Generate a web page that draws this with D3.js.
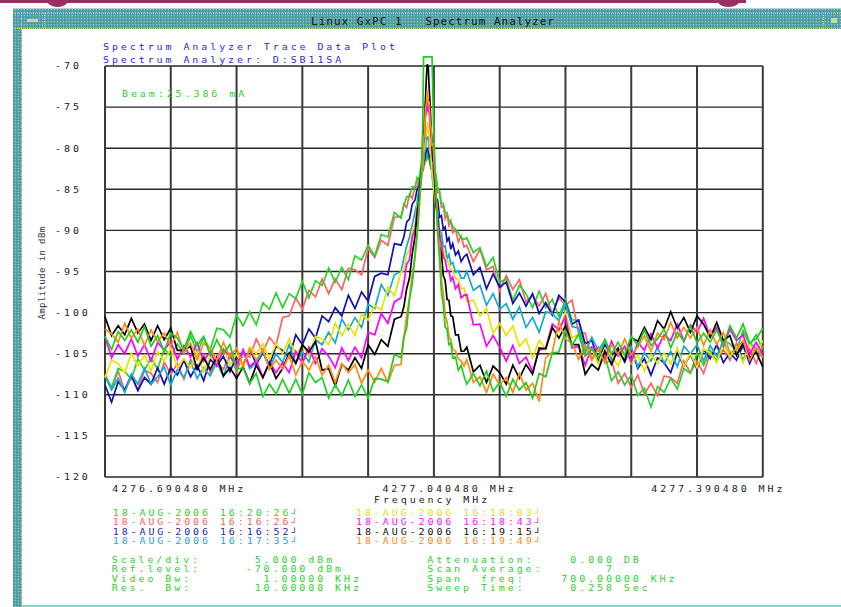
<!DOCTYPE html>
<html>
<head>
<meta charset="utf-8">
<script src="https://cdn.jsdelivr.net/npm/d3@7"></script>
<style>
  html, body { margin: 0; padding: 0; background: #fff; }
  svg { display: block; }
  .mono { font-family: "DejaVu Sans Mono", "Liberation Mono", monospace; font-size: 8px; letter-spacing: 2.336px; white-space: pre; }
</style>
</head>
<body>
<script>
// ---- data ---------------------------------------------------------------
// frequency offsets from the 4277.040480 MHz centre, in kHz (span 700 kHz)
const freqOffsetKHz = [
  -350,-343,-336,-329,-322,-315,-308,-301,-294,-287,-280,-273,-266,-259,-252,-245,-238,-231,-224,-217,-210,-203,-196,-189,-182,-175,-168,-161,-154,-147,-140,-133,-126,-119,-112,-105,-98,-91,-84,-77,-70,-63,-56,-49,-42,-35,
  -32,-29,-26,-23,-20,-18,-16,-14,-12,-11,-10,-9,-8,-7,-6,-5,-4,-3,-2,-1,0,2,4,6,8,10,12,14,16,18,20,23,26,29,32,
  35,42,49,56,63,70,77,84,91,98,105,112,119,126,133,140,147,154,161,168,175,182,189,196,203,210,217,224,231,238,245,252,259,266,273,280,287,294,301,308,315,322,329,336,343,350
];

// amplitude (dBm) of each stored sweep at the offsets above
const sweep161626 = [
  -107.6,-109.3,-107.1,-109.6,-107.8,-109.4,-107.0,-107.4,-108.5,-106.0,-107.5,-106.2,-108.1,-105.7,-106.8,-105.1,-107.3,-106.0,-106.9,-105.0,-107.2,-105.0,-105.4,-103.2,-104.8,-103.0,-104.0,-100.6,-100.4,-98.2,-99.6,-97.3,-98.1,-95.9,-97.7,-95.9,-97.2,-94.6,-94.8,-95.4,-92.2,-93.3,-91.2,-91.8,-88.4,-88.3,
  -86.8,-87.2,-85.6,-86.1,-84.7,-84.8,-83.6,-83.7,-82.5,-82.5,-81.7,-81.6,-81.1,-81.0,-81.3,-81.4,-82.1,-82.1,-82.9,-82.5,-83.3,-83.6,-85.4,-85.4,-87.2,-87.0,-88.6,-88.0,-89.4,-88.8,-90.3,-89.9,-91.4,-90.7,-92.0,
  -91.8,-93.8,-92.3,-94.8,-94.4,-97.3,-95.5,-97.2,-96.0,-98.7,-97.9,-99.2,-97.7,-100.2,-98.2,-99.1,-98.5,-102.5,-102.5,-105.7,-104.2,-106.1,-105.8,-108.6,-107.4,-109.1,-107.6,-109.9,-108.6,-110.1,-107.7,-107.9,-108.6,-105.9,-107.3,-105.9,-107.4,-105.0,-105.9,-104.5,-105.8,-103.7,-105.9,-104.4,-106.2,-104.0
];
const sweepEarly = [
  -107.6,-109.1,-106.8,-107.2,-108.1,-105.6,-107.0,-105.5,-106.9,-104.4,-105.3,-103.8,-105.0,-102.8,-104.8,-103.1,-104.5,-101.9,-102.1,-103.0,-100.3,-101.6,-99.9,-101.5,-98.8,-99.6,-97.6,-99.4,-97.7,-98.3,-96.2,-98.2,-96.1,-96.7,-94.6,-96.3,-94.5,-96.0,-93.1,-93.6,-91.8,-93.1,-90.5,-90.8,-87.8,-88.5,
  -87.0,-85.9,-85.9,-84.7,-84.8,-83.6,-84.0,-82.4,-82.7,-81.4,-82.1,-80.9,-81.6,-80.3,-81.4,-80.7,-82.2,-81.7,-82.8,-82.0,-83.1,-83.1,-84.9,-85.2,-86.7,-86.7,-87.8,-87.9,-88.8,-88.9,-89.5,-89.9,-90.3,-90.9,-91.1,
  -90.9,-92.7,-92.1,-94.4,-93.3,-96.3,-95.9,-98.5,-96.7,-97.7,-99.4,-97.4,-99.4,-98.4,-100.5,-98.4,-100.9,-100.9,-104.4,-104.2,-106.1,-105.2,-108.3,-107.2,-108.8,-107.6,-110.1,-109.2,-111.5,-109.0,-109.7,-108.0,-109.3,-106.8,-107.4,-104.9,-106.4,-104.6,-105.9,-103.4,-103.8,-104.7,-102.2,-103.9,-102.7,-104.5
];
const sweep161652 = [
  -108.8,-110.9,-108.4,-109.4,-107.6,-109.5,-107.9,-108.7,-106.7,-108.7,-106.7,-107.6,-105.8,-107.8,-106.4,-108.3,-105.7,-106.5,-105.3,-107.2,-105.3,-106.4,-104.4,-106.3,-104.9,-106.4,-104.1,-104.6,-105.5,-102.7,-103.9,-102.0,-103.1,-100.4,-101.1,-99.4,-100.4,-97.9,-99.5,-97.5,-98.6,-95.6,-95.2,-95.4,-91.6,-91.8,
  -90.8,-89.0,-88.6,-86.8,-86.3,-85.1,-84.7,-83.5,-82.7,-81.9,-81.4,-80.9,-80.2,-80.2,-80.1,-81.1,-81.2,-82.5,-82.6,-84.0,-83.5,-86.0,-86.3,-88.4,-88.2,-89.9,-89.6,-91.3,-90.9,-92.3,-91.6,-93.0,-92.5,-93.8,-93.2,
  -92.9,-95.4,-94.5,-97.1,-95.3,-96.9,-96.3,-98.9,-97.6,-99.2,-97.7,-100.1,-98.8,-100.3,-97.9,-98.7,-101.4,-100.9,-103.8,-103.4,-105.7,-103.9,-105.3,-104.3,-106.0,-104.3,-106.8,-105.6,-107.6,-105.5,-106.1,-107.3,-104.9,-106.5,-105.1,-106.9,-104.5,-105.6,-103.9,-106.1,-104.9,-105.8,-104.0,-106.2,-104.4,-105.4
];
const sweep161735 = [
  -107.7,-109.4,-108.0,-109.7,-107.5,-108.7,-106.8,-108.7,-107.8,-106.6,-108.8,-106.9,-107.9,-106.0,-108.0,-106.7,-107.7,-106.0,-107.8,-105.3,-106.6,-104.7,-106.8,-106.1,-104.7,-106.8,-105.0,-106.1,-103.9,-106.1,-104.8,-106.0,-103.3,-103.9,-102.4,-103.7,-100.8,-102.1,-100.6,-101.8,-99.0,-99.5,-96.6,-97.9,-95.4,-95.0,
  -93.4,-91.9,-90.8,-89.3,-87.7,-86.7,-85.1,-84.2,-82.2,-81.9,-80.4,-80.2,-78.6,-79.0,-78.5,-80.2,-80.2,-82.4,-82.6,-84.7,-84.0,-86.9,-87.6,-90.1,-90.3,-92.1,-91.9,-93.5,-92.9,-94.1,-93.9,-95.1,-94.9,-95.8,-95.8,
  -95.0,-97.3,-96.7,-99.1,-97.7,-99.6,-98.9,-100.8,-99.3,-101.8,-100.6,-102.4,-99.9,-100.1,-101.0,-98.9,-101.7,-101.9,-104.9,-103.0,-104.6,-103.3,-105.8,-104.8,-105.9,-104.2,-106.6,-104.9,-105.9,-104.2,-106.2,-104.7,-106.6,-104.1,-105.0,-103.9,-105.9,-104.0,-105.3,-103.4,-105.5,-104.1,-105.8,-103.7,-104.4,-105.5
];
const sweep161803 = [
  -107.9,-105.8,-106.2,-107.3,-104.9,-106.5,-105.2,-107.1,-104.7,-105.9,-104.3,-106.7,-105.6,-106.7,-104.9,-107.2,-105.3,-106.2,-104.4,-106.4,-105.0,-106.8,-104.2,-105.0,-103.8,-105.7,-103.8,-105.0,-103.2,-105.2,-103.9,-105.3,-102.9,-103.2,-103.9,-101.3,-102.8,-101.4,-102.8,-100.2,-100.9,-99.1,-99.7,-96.9,-98.0,-95.1,
  -94.8,-92.9,-92.4,-90.0,-89.3,-87.0,-86.4,-83.5,-82.4,-80.2,-80.1,-78.1,-78.3,-76.8,-78.2,-78.3,-80.4,-80.8,-83.1,-83.5,-85.3,-86.9,-89.3,-90.2,-91.7,-92.2,-93.2,-93.6,-94.2,-94.7,-94.9,-95.8,-96.0,-97.1,-97.0,
  -98.7,-98.5,-100.4,-99.5,-102.5,-101.3,-102.8,-101.6,-104.1,-103.2,-105.5,-103.4,-104.5,-102.0,-102.4,-99.9,-103.1,-102.6,-105.3,-104.3,-106.3,-104.4,-105.2,-106.5,-104.3,-106.2,-105.2,-107.1,-105.1,-106.2,-104.9,-106.3,-104.3,-106.5,-105.0,-106.7,-104.4,-104.9,-106.1,-103.8,-105.4,-104.2,-106.1,-103.8,-105.0,-103.4
];
const sweep161843 = [
  -102.9,-105.5,-103.9,-105.0,-103.2,-105.3,-103.9,-105.9,-103.6,-104.6,-103.5,-105.7,-104.0,-105.4,-103.7,-105.9,-104.7,-106.5,-104.5,-105.3,-106.5,-104.5,-106.6,-105.8,-107.9,-106.0,-107.3,-106.1,-107.3,-104.7,-106.2,-104.2,-106.2,-104.4,-105.3,-106.7,-104.3,-105.8,-104.2,-105.5,-102.4,-102.7,-100.1,-101.3,-98.7,-98.2,
  -96.5,-94.1,-93.6,-90.8,-89.9,-87.4,-86.7,-83.6,-81.8,-79.4,-78.8,-76.1,-75.6,-74.3,-75.4,-75.7,-77.5,-78.6,-80.5,-81.6,-83.1,-86.0,-88.4,-90.4,-91.6,-93.2,-93.6,-94.9,-94.9,-96.1,-95.7,-97.1,-96.6,-98.2,-97.9,
  -97.8,-101.5,-101.4,-104.1,-102.8,-104.2,-105.9,-104.0,-106.2,-105.4,-107.2,-104.6,-104.3,-101.4,-102.1,-100.5,-104.3,-104.1,-106.4,-104.2,-104.5,-105.7,-103.5,-105.3,-104.1,-106.0,-103.6,-104.6,-102.6,-104.3,-102.7,-103.4,-101.4,-103.5,-101.5,-102.4,-100.7,-102.9,-101.8,-104.1,-102.0,-103.4,-102.7,-105.1,-103.6,-105.1
];
const sweep161915 = [
  -100.5,-102.8,-101.6,-102.7,-100.7,-102.5,-101.4,-103.4,-101.6,-103.3,-101.9,-104.6,-104.6,-104.1,-106.9,-105.5,-106.9,-105.4,-107.7,-106.7,-108.0,-106.6,-108.6,-106.4,-107.9,-106.1,-108.0,-106.8,-104.9,-106.2,-103.9,-104.8,-103.5,-107.0,-106.8,-108.9,-106.3,-107.0,-105.5,-106.8,-103.9,-105.1,-103.3,-104.1,-100.8,-100.5,
  -99.3,-97.1,-95.8,-92.8,-90.7,-88.3,-86.3,-83.4,-80.5,-78.6,-76.2,-74.2,-71.3,-69.8,-70.2,-72.8,-74.6,-77.9,-79.0,-81.5,-81.6,-86.6,-88.5,-91.9,-92.9,-95.5,-96.1,-98.4,-98.5,-100.4,-100.5,-102.7,-102.7,-104.7,-104.7,
  -104.2,-107.2,-106.4,-108.5,-106.5,-107.3,-108.7,-106.4,-108.0,-106.3,-107.5,-104.3,-104.4,-101.8,-103.1,-101.6,-103.9,-103.9,-107.5,-106.3,-107.0,-104.7,-106.3,-104.5,-105.9,-103.0,-103.5,-101.8,-103.3,-101.0,-102.0,-99.9,-101.9,-100.6,-102.4,-100.4,-101.4,-103.0,-101.2,-103.4,-102.8,-105.2,-103.7,-105.5,-104.8,-106.6
];
const sweep161949 = [
  -102.0,-102.6,-103.6,-101.3,-103.1,-102.0,-104.0,-102.1,-103.5,-102.5,-104.1,-102.4,-104.9,-103.7,-105.7,-103.7,-104.4,-105.8,-103.6,-105.4,-104.3,-106.5,-104.4,-105.8,-104.4,-106.9,-105.8,-106.9,-105.2,-107.6,-105.9,-107.0,-105.4,-107.6,-106.4,-108.5,-106.2,-107.3,-106.3,-108.6,-107.0,-108.5,-106.8,-108.5,-106.4,-106.3,
  -103.1,-100.4,-98.2,-95.3,-93.3,-90.2,-88.3,-84.6,-82.4,-79.0,-78.0,-75.1,-74.6,-73.0,-74.4,-74.4,-77.0,-77.6,-79.6,-79.5,-81.4,-84.5,-89.4,-91.9,-96.0,-97.7,-100.3,-101.1,-102.9,-103.3,-104.4,-104.7,-105.6,-105.9,-106.5,
  -105.7,-108.5,-107.8,-109.7,-107.5,-108.8,-107.9,-109.7,-107.4,-109.4,-108.6,-110.8,-105.5,-104.8,-101.1,-103.2,-103.7,-105.7,-103.9,-105.8,-104.4,-106.1,-103.9,-105.1,-103.2,-105.1,-104.2,-102.8,-104.7,-102.5,-103.3,-101.2,-103.1,-101.8,-103.1,-101.8,-104.0,-102.1,-103.9,-102.4,-104.9,-104.5,-103.4,-105.8,-104.2,-105.5
];
const sweep162026 = [
  -102.9,-104.5,-102.3,-103.4,-102.1,-103.6,-101.7,-104.1,-102.8,-104.7,-102.5,-103.1,-104.5,-102.3,-104.0,-102.9,-105.2,-103.3,-104.9,-103.9,-106.9,-106.7,-108.6,-107.4,-110.2,-108.7,-109.9,-108.1,-109.8,-108.1,-109.9,-107.3,-108.5,-107.9,-110.4,-108.8,-110.1,-108.2,-110.2,-108.8,-110.4,-108.0,-108.1,-108.4,-105.1,-105.5,
  -103.0,-101.9,-98.4,-96.5,-92.7,-90.8,-87.1,-84.3,-77.8,-68.9,-68.9,-68.9,-68.9,-68.9,-68.9,-68.9,-68.9,-68.9,-68.9,-74.0,-78.3,-84.6,-90.4,-93.5,-97.5,-99.1,-101.8,-102.0,-103.9,-103.7,-105.5,-105.4,-107.0,-106.4,-107.7,
  -108.7,-107.4,-108.9,-107.1,-109.6,-108.5,-110.2,-108.1,-109.4,-108.5,-110.4,-107.4,-107.8,-104.9,-104.8,-102.2,-104.0,-102.6,-105.3,-104.4,-105.5,-103.3,-105.0,-103.6,-105.2,-102.9,-104.0,-102.1,-104.0,-103.2,-102.0,-104.3,-102.4,-103.5,-101.6,-103.7,-102.5,-103.6,-102.1,-103.9,-101.6,-103.1,-101.4,-103.7,-103.2,-101.9
];

// axis ticks and labels
const ampTicks = [-70, -75, -80, -85, -90, -95, -100, -105, -110, -115, -120];
const freqTickOffsets = [-350, 0, 350];
const freqTickLabels = ["4276.690480 MHz", "4277.040480 MHz", "4277.390480 MHz"];

// legend entries (left column first, then right column)
const legendDate = "18-AUG-2006";
const legendTimes = ["16:20:26", "16:16:26", "16:16:52", "16:17:35", "16:18:03", "16:18:43", "16:19:15", "16:19:49"];
const legendColors = ["#2ed02e", "#ff6262", "#2424b0", "#18a8cc", "#e4e000", "#ff10ff", "#111111", "#ff8a18"];

// instrument settings
const settingsLeft = ["Scale/div:      5.000 dBm", "Ref.level:     -70.000 dBm", "Video Bw:        1.00000 KHz", "Res.  Bw:       10.00000 KHz"];
const settingsRight = ["Attenuation:    0.000 DB", "Scan Average:       7", "Span  freq:    700.00000 KHz", "Sweep Time:     0.258 Sec"];

// ---- drawing ------------------------------------------------------------
const W = 841, H = 607;
const STRETCH = 1.25;   // the terminal font is wider than it is tall
const svg = d3.select("body").append("svg").attr("width", W).attr("height", H);

// window frame with stippled X11-style border
const defs = svg.append("defs");
const pat = defs.append("pattern").attr("id", "stipple")
  .attr("width", 3).attr("height", 3).attr("patternUnits", "userSpaceOnUse");
pat.append("rect").attr("width", 3).attr("height", 3).attr("fill", "#56a4a7");
pat.append("rect").attr("x", 0).attr("y", 0).attr("width", 1).attr("height", 1).attr("fill", "#8fcccc");
pat.append("rect").attr("x", 1).attr("y", 2).attr("width", 1).attr("height", 1).attr("fill", "#408e92");

const band = "#9b2d62";
svg.append("rect").attr("x", 0).attr("y", 0).attr("width", 746).attr("height", 3).attr("fill", band);
svg.append("ellipse").attr("cx", 57.5).attr("cy", 0).attr("rx", 10.5).attr("ry", 7).attr("fill", band);
svg.append("ellipse").attr("cx", 728.5).attr("cy", 0).attr("rx", 11.5).attr("ry", 7).attr("fill", band);

svg.append("rect").attr("x", 13).attr("y", 8).attr("width", W - 13).attr("height", H - 8).attr("fill", "url(#stipple)");
svg.append("rect").attr("x", 22).attr("y", 29).attr("width", W - 22).attr("height", 576).attr("fill", "#fff");
svg.append("rect").attr("x", 22).attr("y", 605).attr("width", W - 22).attr("height", 2).attr("fill", "#8fcfcf");
svg.append("line").attr("x1", 13).attr("x2", W).attr("y1", 8.5).attr("y2", 8.5).attr("stroke", "#a8d6d6");

function dotted(x1, y1, x2, y2) {
  svg.append("line").attr("x1", x1).attr("y1", y1).attr("x2", x2).attr("y2", y2)
    .attr("stroke", "#d8d44a").attr("stroke-width", 1).attr("stroke-dasharray", "1,1");
}
dotted(13, 13.5, W, 13.5);
dotted(13, 28.5, W, 28.5);
dotted(21.5, 13, 21.5, H);
dotted(44.5, 13, 44.5, 29);
dotted(823.5, 13, 823.5, 29);
svg.append("rect").attr("x", 27).attr("y", 19).attr("width", 11).attr("height", 3).attr("fill", "#c9d99c");
svg.append("rect").attr("x", 831).attr("y", 18).attr("width", 6).attr("height", 5).attr("fill", "#c9d99c");

svg.append("text").attr("x", 433).attr("y", 21).attr("dy", "0.35em").attr("text-anchor", "middle")
  .style("font-family", "'DejaVu Sans Mono', monospace").style("font-size", "11px")
  .style("letter-spacing", "1px").style("white-space", "pre").attr("fill", "#111")
  .text("Linux GxPC 1   Spectrum Analyzer");

// scales
const x = d3.scaleLinear().domain([-350, 350]).range([105, 762.8]);
const y = d3.scaleLinear().domain([-120, -70]).range([477, 66]);

function monoText(g, tx, ty, str, color) {
  return g.append("text").attr("class", "mono")
    .attr("transform", `translate(${tx},${ty}) scale(${STRETCH},1)`)
    .attr("dy", "0.35em").attr("fill", color).attr("xml:space", "preserve").text(str);
}

// headings
monoText(svg, 103, 47.5, "Spectrum Analyzer Trace Data Plot", "#2a2ad6");
monoText(svg, 103, 60, "Spectrum Analyzer: D:SB11SA", "#2a2ad6");

// grid
const grid = svg.append("g");
grid.selectAll("line.h").data(ampTicks).join("line").attr("class", "h")
  .attr("x1", x(-350)).attr("x2", x(350)).attr("y1", d => y(d)).attr("y2", d => y(d))
  .attr("stroke", "#262626").attr("stroke-width", 1.4);
grid.selectAll("line.v").data(d3.range(-350, 351, 70)).join("line").attr("class", "v")
  .attr("x1", d => x(d)).attr("x2", d => x(d)).attr("y1", y(-70)).attr("y2", y(-120))
  .attr("stroke", "#3a3a3a").attr("stroke-width", 2);

// y axis labels
const yAxis = svg.append("g").attr("transform", `translate(${x(-350)},0)`)
  .call(d3.axisLeft(y).tickValues(ampTicks).tickSize(0).tickFormat(d => String(d)));
yAxis.select(".domain").remove();
yAxis.attr("font-family", null).attr("font-size", null);
yAxis.selectAll("text").attr("class", "mono")
  .attr("x", (55 - x(-350)) / STRETCH).attr("dy", "0.35em")
  .attr("transform", `scale(${STRETCH},1)`)
  .attr("text-anchor", "start").attr("fill", "#222");

svg.append("text").attr("transform", "translate(42,273) rotate(-90)").attr("text-anchor", "middle")
  .attr("dy", "0.35em").style("font-family", "'DejaVu Sans Mono', monospace").style("font-size", "9px")
  .style("letter-spacing", "0.4px").attr("fill", "#333").text("Amplitude in dBm");

// x axis labels
const labelNudge = [6.7, -52, -112];
const xAxis = svg.append("g").attr("transform", `translate(0,${y(-120)})`)
  .call(d3.axisBottom(x).tickValues(freqTickOffsets).tickSize(0).tickFormat((d, i) => freqTickLabels[i]));
xAxis.select(".domain").remove();
xAxis.attr("font-family", null).attr("font-size", null);
xAxis.selectAll("text").attr("class", "mono").attr("y", 12).attr("dy", "0.35em")
  .attr("x", (d, i) => labelNudge[i] / STRETCH).attr("transform", `scale(${STRETCH},1)`)
  .attr("text-anchor", "start").attr("fill", "#222");
monoText(svg, 374, 500, "Frequency MHz", "#222");

// beam current annotation
monoText(svg, 122, 94.3, "Beam:25.386 mA", "#2ed02e");

// sweeps
const sweeps = [
  { values: sweep161626, color: "#ff6262" },
  { values: sweepEarly, color: "#2ed02e" },
  { values: sweep161652, color: "#1010b4" },
  { values: sweep161735, color: "#14aad0" },
  { values: sweep161803, color: "#e8e400" },
  { values: sweep161843, color: "#ff00ff" },
  { values: sweep161915, color: "#000000" },
  { values: sweep161949, color: "#ff8a14" },
  { values: sweep162026, color: "#22cc22" }
];
const line = d3.line().defined(d => d[1] != null).x(d => x(d[0])).y(d => y(d[1]));
svg.append("g").selectAll("path").data(sweeps).join("path")
  .attr("d", s => line(freqOffsetKHz.map((f, i) => [f, s.values[i]])))
  .attr("fill", "none").attr("stroke", s => s.color).attr("stroke-width", 1.7)
  .attr("stroke-linejoin", "miter");

// legend
const legend = svg.append("g");
legendTimes.forEach((t, i) => {
  const col = Math.floor(i / 4), row = i % 4;
  monoText(legend, col ? 356 : 112.7, 512.7 + row * 9.5, `${legendDate} ${t}\u2518`, legendColors[i]);
});

// settings block
const settings = svg.append("g");
settingsLeft.forEach((s, i) => monoText(settings, 111.7, 560 + i * 9.4, s, "#2ed02e"));
settingsRight.forEach((s, i) => monoText(settings, 427.3, 560 + i * 9.4, s, "#2ed02e"));
</script>
</body>
</html>
